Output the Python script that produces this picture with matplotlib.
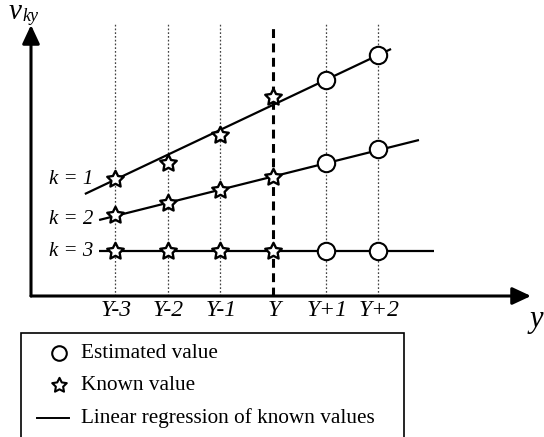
import numpy as np
import matplotlib
matplotlib.use("Agg")
import matplotlib.pyplot as plt
from matplotlib.path import Path
from matplotlib.patches import Rectangle
from matplotlib.lines import Line2D

# ---------------- data ----------------
year_labels = ["Y-3", "Y-2", "Y-1", "Y", "Y+1", "Y+2"]
year_pos = [-3, -2, -1, 0, 1, 2]
known_pos = [-3, -2, -1, 0]
est_pos = [1, 2]

k1_known = [11.7, 13.3, 16.1, 19.9]
k1_est = [21.6, 24.1]
k2_known = [8.1, 9.3, 10.6, 11.9]
k2_est = [13.3, 14.7]
k3_known = [4.5, 4.5, 4.5, 4.5]
k3_est = [4.5, 4.5]

# regression line end points (x, value)
k1_line_x = [-3.57, 2.24]
k1_line_v = [10.2, 24.7]
k2_line_x = [-3.30, 2.77]
k2_line_v = [7.6, 15.6]
k3_line_x = [-3.30, 3.06]
k3_line_v = [4.5, 4.5]

series_labels = ["k = 1", "k = 2", "k = 3"]
legend_labels = ["Estimated value", "Known value", "Linear regression of known values"]

# ---------------- figure ----------------
W, H = 544, 437
fig = plt.figure(figsize=(W / 100, H / 100), dpi=100)
ax = fig.add_axes([0, 0, 1, 1])
ax.set_axis_off()
# pixel mapping: x px = 273 + 52.7*i ; y px = 296 - 10*v
ax.set_xlim(-273 / 52.7, (W - 273) / 52.7)
ax.set_ylim((296 - H) / 10, 296 / 10)

serif = "Liberation Serif"
star = Path.unit_regular_star(5, 0.5)

def px2x(px):
    return (px - 273) / 52.7

def py2v(py):
    return (296 - py) / 10

top_v = py2v(24)

# vertical guide lines
for p in year_pos:
    if p == 0:
        ax.plot([p, p], [0, top_v], color="black", lw=2.2,
                dashes=[2.9, 1.8], zorder=2)
    else:
        ax.plot([p, p], [0, top_v], color="#444444", lw=0.9,
                dashes=[1.4, 1.6], zorder=1)

# axes arrows
x0 = px2x(31)
ax.annotate("", xy=(x0, py2v(25)), xytext=(x0, 0),
            arrowprops=dict(arrowstyle="-|>,head_length=0.75,head_width=0.35",
                            lw=2.2, color="black", shrinkA=0, shrinkB=0,
                            mutation_scale=15), zorder=3)
ax.annotate("", xy=(px2x(531), 0), xytext=(x0, 0),
            arrowprops=dict(arrowstyle="-|>,head_length=0.75,head_width=0.35",
                            lw=2.2, color="black", shrinkA=0, shrinkB=0,
                            mutation_scale=15), zorder=3)

# regression lines
for lx, lv in [(k1_line_x, k1_line_v), (k2_line_x, k2_line_v), (k3_line_x, k3_line_v)]:
    ax.plot(lx, lv, color="black", lw=1.6, zorder=3, solid_capstyle="butt")

# markers
for kn, es in [(k1_known, k1_est), (k2_known, k2_est), (k3_known, k3_est)]:
    ax.plot(known_pos, kn, linestyle="none", marker=star, markersize=12.5,
            markerfacecolor="white", markeredgecolor="black",
            markeredgewidth=1.7, zorder=4)
    ax.plot(est_pos, es, linestyle="none", marker="o", markersize=12.5,
            markerfacecolor="white", markeredgecolor="black",
            markeredgewidth=1.5, zorder=4)

# series labels
for lab, v in zip(series_labels, [py2v(180), py2v(219), py2v(251)]):
    ax.text(px2x(93), v, lab, ha="right", va="center", fontsize=15,
            family=serif, style="italic")

# tick labels
for p, lab in zip(year_pos, year_labels):
    ax.text(p + 0.02, py2v(311), lab, ha="center", va="center", fontsize=17,
            family=serif, style="italic")

# axis labels
ax.text(px2x(9), py2v(19), "v", ha="left", va="baseline", fontsize=21,
        family=serif, style="italic")
ax.text(px2x(22), py2v(21), "ky", ha="left", va="baseline", fontsize=13,
        family=serif, style="italic")
ax.text(px2x(530), py2v(320), "y", ha="left", va="center", fontsize=22,
        family=serif, style="italic")

# legend (manual box)
def fx(px):
    return px / W

def fy(py):
    return 1 - py / H

fig.patches.append(Rectangle((fx(21), fy(445)), fx(404) - fx(21), fy(333) - fy(445),
                             transform=fig.transFigure, fill=False,
                             edgecolor="black", lw=1.2))
fig.lines.append(Line2D([fx(59)], [fy(353)], transform=fig.transFigure,
                        marker="o", markersize=10.5, markerfacecolor="white",
                        markeredgecolor="black", markeredgewidth=1.5, linestyle="none"))
fig.lines.append(Line2D([fx(59)], [fy(385)], transform=fig.transFigure,
                        marker=star, markersize=11, markerfacecolor="white",
                        markeredgecolor="black", markeredgewidth=1.5, linestyle="none"))
fig.lines.append(Line2D([fx(37), fx(69)], [fy(418), fy(418)], transform=fig.transFigure,
                        color="black", lw=1.4))
for lab, py in zip(legend_labels, [353, 385, 418]):
    fig.text(fx(81), fy(py), lab, ha="left", va="center", fontsize=15.3,
             family=serif)

fig.savefig("out.png", dpi=100)
